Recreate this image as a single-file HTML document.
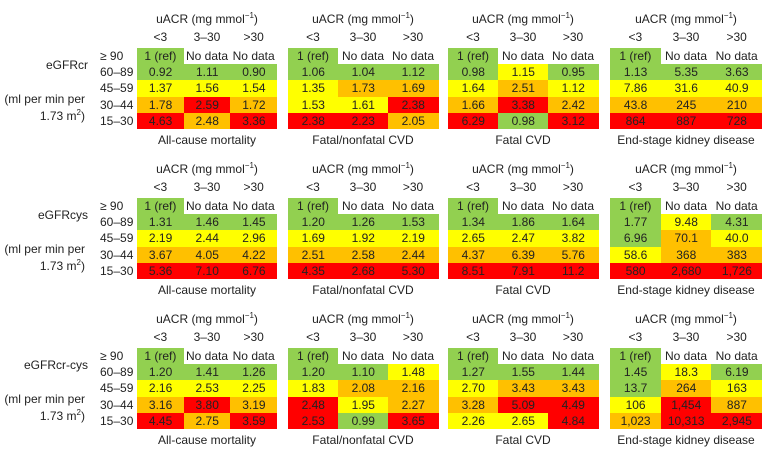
<!DOCTYPE html>
<html><head><meta charset="utf-8">
<style>
body{margin:0;background:#fff;width:769px;height:455px;overflow:hidden;position:relative;font-family:"Liberation Sans",Arial,sans-serif;color:#222}
.t{position:absolute;white-space:nowrap;font-size:12px;line-height:14px}
.c{position:absolute;font-size:12px;text-align:center;line-height:16px;white-space:nowrap}
</style></head>
<body>
<div id="root"></div>
<script>
const groupNames = ["eGFRcr","eGFRcys","eGFRcr-cys"];
const outcomes = ["All-cause mortality","Fatal/nonfatal CVD","Fatal CVD","End-stage kidney disease"];
const uacrCats = ["<3","3\u201330",">30"];
const egfrCats = ["\u2265 90","60\u201389","45\u201359","30\u201344","15\u201330"];
const valsCr = [
 [["0.92","1.11","0.90"],["1.37","1.56","1.54"],["1.78","2.59","1.72"],["4.63","2.48","3.36"]],
 [["1.06","1.04","1.12"],["1.35","1.73","1.69"],["1.53","1.61","2.38"],["2.38","2.23","2.05"]],
 [["0.98","1.15","0.95"],["1.64","2.51","1.12"],["1.66","3.38","2.42"],["6.29","0.98","3.12"]],
 [["1.13","5.35","3.63"],["7.86","31.6","40.9"],["43.8","245","210"],["864","887","728"]]];
const valsCys = [
 [["1.31","1.46","1.45"],["2.19","2.44","2.96"],["3.67","4.05","4.22"],["5.36","7.10","6.76"]],
 [["1.20","1.26","1.53"],["1.69","1.92","2.19"],["2.51","2.58","2.44"],["4.35","2.68","5.30"]],
 [["1.34","1.86","1.64"],["2.65","2.47","3.82"],["4.37","6.39","5.76"],["8.51","7.91","11.2"]],
 [["1.77","9.48","4.31"],["6.96","70.1","40.0"],["58.6","368","383"],["580","2,680","1,726"]]];
const valsCrCys = [
 [["1.20","1.41","1.26"],["2.16","2.53","2.25"],["3.16","3.80","3.19"],["4.45","2.75","3.59"]],
 [["1.20","1.10","1.48"],["1.83","2.08","2.16"],["2.48","1.95","2.27"],["2.53","0.99","3.65"]],
 [["1.27","1.55","1.44"],["2.70","3.43","3.43"],["3.28","5.09","4.49"],["2.26","2.65","4.84"]],
 [["1.45","18.3","6.19"],["13.7","264","163"],["106","1,454","887"],["1,023","10,313","2,945"]]];
const catCr = [["ggg","yyy","oro","ror"],["ggg","yoo","yyr","rro"],["gyg","yoy","oro","rgr"],["ggg","yyy","ooo","rrr"]];
const catCys = [["ggg","yyy","ooo","rrr"],["ggg","yyy","ooo","rrr"],["ggg","yyy","ooo","rrr"],["gyg","goy","yoo","rrr"]];
const catCrCys = [["ggg","yyy","oro","ror"],["ggy","yoo","ryo","rgr"],["ggg","yoo","orr","yyr"],["gyg","goy","yro","orr"]];
const allVals=[valsCr,valsCys,valsCrCys], allCats=[catCr,catCys,catCrCys];
const colors={g:"#92d050",y:"#ffff00",o:"#ffc000",r:"#ff0000"};
const panelX=[137,288,448,610], panelW=[140,150,150,152];
const rowY0=48,rowH=16.2;
const root=document.getElementById('root');
function el(cls,x,y,w,h,txt){const d=document.createElement('div');d.className=cls;d.style.left=x+'px';d.style.top=y+'px';if(w)d.style.width=w+'px';if(h){d.style.height=h+'px';d.style.lineHeight=h+'px';}d.innerHTML=txt;root.appendChild(d);return d;}
groupNames.forEach((g,gi)=>{
 const oy=gi*150;
 let d=el('t',0,oy+58,88,0,g);d.style.textAlign='right';
 
 
 d=el('t',0,oy+92,85,0,'(ml per min per');d.style.textAlign='right';
 
 
 d=el('t',0,oy+106,85,0,'1.73 m<sup style="font-size:8px">2</sup>)');d.style.textAlign='right';
 
 
 egfrCats.forEach((r,ri)=>{d=el('t',100,oy+rowY0+ri*rowH+1,0,0,r);
  
  });
 outcomes.forEach((o,pi)=>{
  const px=panelX[pi],pw=panelW[pi],cw=pw/3;
  d=el('c',px,oy+8,pw,16,'uACR (mg mmol<sup style="font-size:8px">\u22121</sup>)');
  
  
  uacrCats.forEach((u,ci)=>{d=el('c',px+ci*cw,oy+29,cw,16,u.replace('<','&lt;').replace('>','&gt;'));
   
   });
  for(let ci=0;ci<3;ci++){
   d=el('c',px+ci*cw,oy+rowY0,cw,rowH,ci==0?'1 (ref)':'No data');
   if(ci==0)d.style.background=colors.g;
   
   
  }
  allVals[gi][pi].forEach((row,ri)=>{row.forEach((v,ci)=>{
   d=el('c',px+ci*cw,oy+rowY0+(ri+1)*rowH,cw+0.5,rowH+0.5,v);
   d.style.background=colors[allCats[gi][pi][ri][ci]];
   
   
  });});
  d=el('c',px,oy+132,pw,16,o);
  
  
 });
});
</script>
</body></html>
